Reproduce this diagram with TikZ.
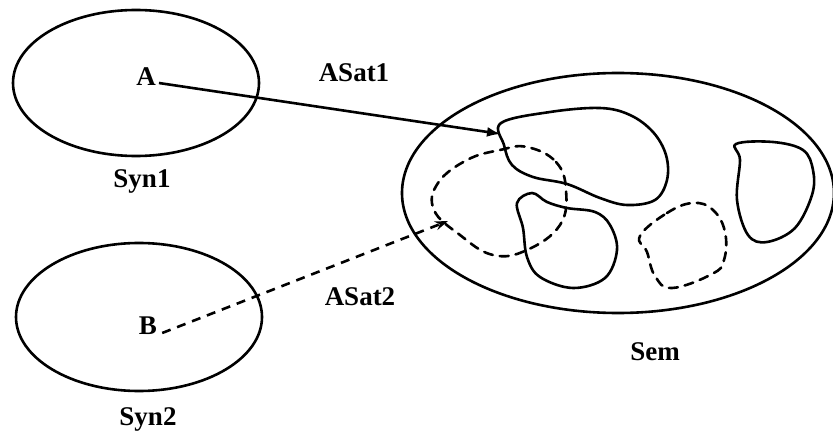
\documentclass[tikz,border=0pt]{standalone}
\usepackage{fontspec}
\setmainfont{Liberation Serif}
\usetikzlibrary{arrows.meta}
\begin{document}
\begin{tikzpicture}[x=1pt,y=-1pt,
  outline/.style={line width=2.6pt},
  blob/.style={line width=2.6pt, line join=round},
  dashblob/.style={line width=2.6pt, dash pattern=on 9pt off 7pt, line cap=round},
  lbl/.style={font=\fontsize{27}{30}\selectfont\bfseries, inner sep=0pt}]
\useasboundingbox (0,0) rectangle (833,441);
% outer ellipses
\draw[outline] (136,83) ellipse [x radius=123, y radius=73];
\draw[outline] (139,317) ellipse [x radius=123, y radius=74];
\draw[outline] (618,193) ellipse [x radius=216, y radius=120];
% labels
\node[lbl] (A) at (146,77) {A};
\node[lbl] (B) at (148,326) {B};
\node[lbl] (syn1) at (142,181) {Syn1};
\node[lbl] (syn2) at (148,419) {Syn2};
\node[lbl] (asat1) at (354,73) {ASat1};
\node[lbl] (asat2) at (360,297) {ASat2};
\node[lbl] (sem) at (655,352) {Sem};
% regions in Sem
\draw[blob] plot[smooth cycle, tension=0.6] coordinates {
  (501,123) (504,145) (512,165) (533,177) (567,184) (600,198) (627,205)
  (655,200) (667,180) (666,155) (653,132) (630,115) (600,108) (550,112)};
\draw[blob] plot[smooth cycle, tension=0.6] coordinates {
  (517,203) (523,228) (527,257) (540,277) (573,288) (605,278) (617,250)
  (610,225) (595,212) (567,208) (547,202) (532,193)};
\draw[blob] plot[smooth cycle, tension=0.6] coordinates {
  (736,144) (740,160) (737,200) (748,235) (767,242) (795,228) (812,195)
  (813,170) (803,150) (773,142)};
\draw[dashblob] plot[smooth cycle, tension=0.7] coordinates {
  (527,147) (556,162) (566,190) (560,225) (527,250) (493,255) (460,235)
  (434,210) (438,183) (467,160) (500,150)};
\draw[dashblob] plot[smooth cycle, tension=0.7] coordinates {
  (640,236) (667,213) (693,203) (713,210) (725,232) (724,260) (712,274)
  (672,288) (655,276) (647,252)};
% connectors
\coordinate (tip1) at (501,134);
\coordinate (tip2) at (448,221);
\draw[line width=2.6pt, -{Latex[length=14pt,width=10pt]}] (A.east) ++(3,6) -- (tip1);
\draw[line width=2.6pt, dash pattern=on 9pt off 7pt, -{Stealth[open,length=13pt,width=9pt]}] (B.east) ++(5,7) -- (tip2);
\end{tikzpicture}
\end{document}
